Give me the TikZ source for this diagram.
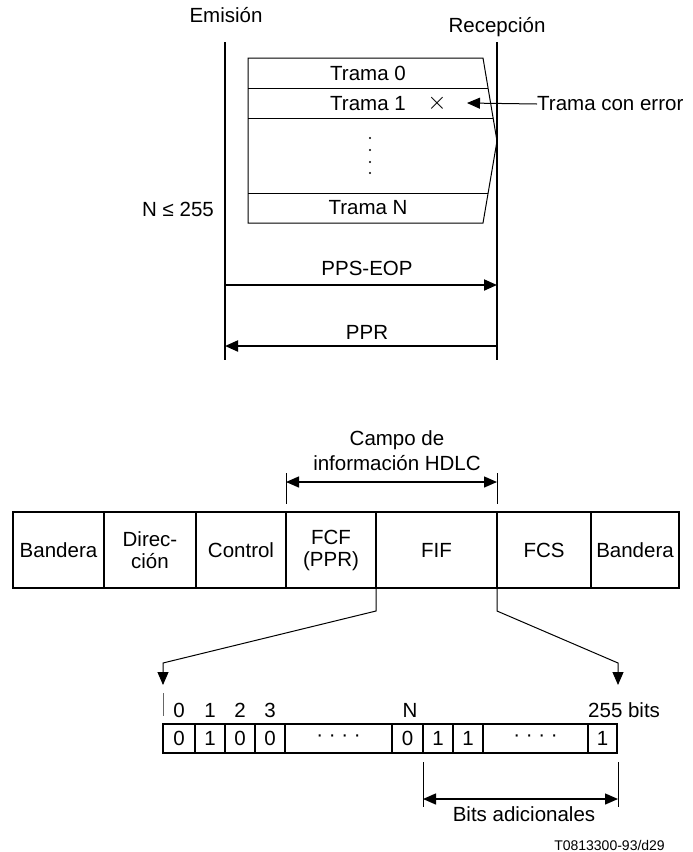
\documentclass[tikz,border=0pt]{standalone}
\usepackage{fontspec}
\setmainfont{Liberation Sans}
\usetikzlibrary{arrows.meta}
\begin{document}
\begin{tikzpicture}[x=1pt,y=-1pt,
  every node/.style={font=\fontsize{20.5}{22}\selectfont, inner sep=0pt},
  lane/.style={line width=2pt},
  thinline/.style={line width=1pt},
  tri/.style={-{Triangle[length=13pt,width=11pt]}},
  tritwo/.style={{Triangle[length=13pt,width=11pt]}-{Triangle[length=13pt,width=11pt]}},
  cell/.style={draw, line width=1.5pt, minimum height=76pt, align=center},
  bitcell/.style={draw, line width=2pt, minimum height=29pt}
]
\useasboundingbox (0,0) rectangle (693,852);

% ---- top exchange ----
\node (emi) at (226,15) {Emisión};
\node (rec) at (497,27) {Recepción};
\coordinate (e0) at (225,42); \coordinate (e1) at (225,360);
\coordinate (r0) at (497,42); \coordinate (r1) at (497,360);
\draw[lane] (e0) -- (e1);
\draw[lane] (r0) -- (r1);

% frame block
\draw[thinline] (248,58) -- (483,58) -- (497,141) -- (483,223) -- (248,223) -- cycle;
\draw[thinline] (248,88) -- (488,88);
\draw[thinline] (248,118) -- (493,118);
\draw[thinline] (248,193) -- (488,193);
\node (t0) at (368,73) {Trama 0};
\node (t1) at (368,104) {Trama 1};
\node[font=\fontsize{30}{30}\selectfont] (err) at (437,103) {$\times$};
\node[anchor=west] (tce) at (537,104) {Trama con error};
\coordinate (errtip) at (467,103);
\draw[thinline, tri] (tce.west) -- (errtip);
\foreach \yy in {138,150,162,173} \fill (370,\yy) circle (1.1);
\node (tn) at (368,208) {Trama N};
\node (nle) at (178,209) {N ≤ 255};

\node (pps) at (367,268) {PPS-EOP};
\coordinate (pa) at (225,285); \coordinate (pb) at (497,285);
\draw[lane, tri] (pa) -- (pb);
\node (ppr) at (367,332) {PPR};
\coordinate (qa) at (497,346); \coordinate (qb) at (225,346);
\draw[lane, tri] (qa) -- (qb);

% ---- HDLC frame ----
\node[align=center, font=\fontsize{20.5}{25}\selectfont] (campo) at (397,451) {Campo de\\información HDLC};
\coordinate (ha) at (286,482); \coordinate (hb) at (497,482);
\draw[line width=1.4pt, tritwo] (ha) -- (hb);
\draw[thinline] (286,473) -- (286,504);
\draw[thinline] (497,473) -- (497,504);

\foreach \l/\r/\t/\n in {13/104/Bandera/c1, 104/196/{Direc-\\ción}/c2, 196/286/Control/c3,
  286/376/{FCF\\(PPR)}/c4, 376/497/FIF/c5, 497/591/FCS/c6, 591/679/Bandera/c7}
  \node[cell, minimum width={\r-\l}] (\n) at ({(\l+\r)/2},550) {\t};

% bend connectors
\coordinate (fa) at (376,588); \coordinate (fb) at (376,611);
\coordinate (fc) at (163,663); \coordinate (fd) at (163,685);
\draw[thinline, tri] (fa) -- (fb) -- (fc) -- (fd);
\coordinate (ga) at (497,588); \coordinate (gb) at (497,611);
\coordinate (gc) at (618,663); \coordinate (gd) at (618,685);
\draw[thinline, tri] (ga) -- (gb) -- (gc) -- (gd);

% ---- bit field ----
\draw[line width=0.8pt, black!60] (163,693) -- (163,716);
\node (b0) at (179,710) {0};
\node (b1) at (210,710) {1};
\node (b2) at (240,710) {2};
\node (b3) at (270,710) {3};
\node (bn) at (410,710) {N};
\node[anchor=west] (b255) at (588,710) {255 bits};

\foreach \l/\r/\t/\n in {163/195/0/d1, 195/225/1/d2, 225/255/0/d3, 255/285/0/d4,
  285/392/{· · · ·}/d5, 392/423/0/d6, 423/453/1/d7, 453/483/1/d8, 483/588/{· · · ·}/d9, 588/617/1/d10}
  \node[bitcell, minimum width={\r-\l}] (\n) at ({(\l+\r)/2},738.5) {\t};

\draw[thinline] (423,762) -- (423,807);
\draw[thinline] (618,762) -- (618,807);
\coordinate (ba) at (423,799); \coordinate (bb) at (618,799);
\draw[line width=1.4pt, tritwo] (ba) -- (bb);
\node (badic) at (524,814) {Bits adicionales};

\node[anchor=east, font=\fontsize{14}{16}\selectfont] (code) at (665,845) {T0813300-93/d29};
\end{tikzpicture}
\end{document}
